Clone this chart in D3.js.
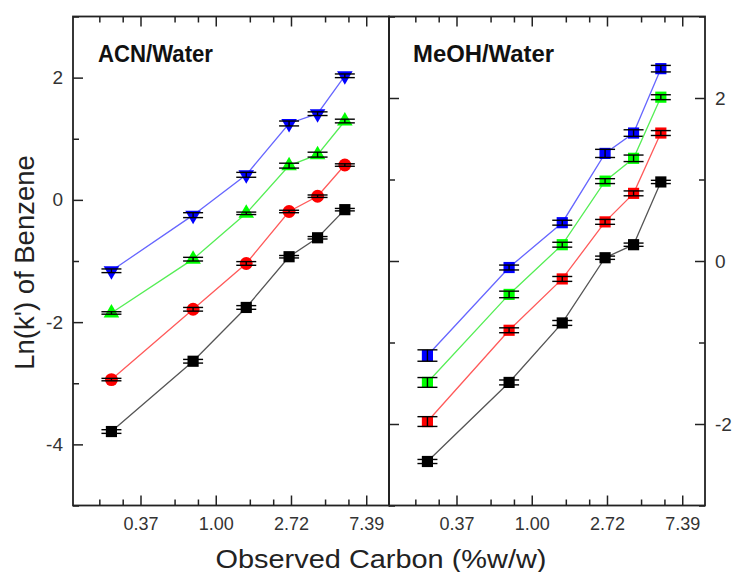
<!DOCTYPE html>
<html>
<head>
<meta charset="utf-8">
<script src="https://cdn.jsdelivr.net/npm/d3@7/dist/d3.min.js"></script>
<style>
  html, body { margin: 0; padding: 0; background: #fff; }
  svg { display: block; }
  text { font-family: "Liberation Sans", Arial, Helvetica, sans-serif; }
</style>
</head>
<body>
<svg id="chart" width="732" height="572"></svg>
<script>
// ---------------- DATA ----------------
const xValues = [0.25, 0.74, 1.5, 2.65, 3.87, 5.56];   // observed carbon (%w/w)
const xTickLabels = ["0.37", "1.00", "2.72", "7.39"];
const xTickExponents = [-1, 0, 1, 2];

const panelTitles = ["ACN/Water", "MeOH/Water"];
const seriesColors = ["#0000ff", "#00ff00", "#ff0000", "#000000"];
const lineColors   = ["#6666ff", "#55ee55", "#ff5a5a", "#555555"];

// ACN/Water panel
const acnBlue  = [-1.16, -0.25, 0.41, 1.25, 1.41, 2.03];
const acnGreen = [-1.85, -0.97, -0.22, 0.56, 0.74, 1.29];
const acnRed   = [-2.94, -1.79, -1.04, -0.19, 0.06, 0.57];
const acnBlack = [-3.79, -2.64, -1.76, -0.93, -0.62, -0.16];
const acnBlueErr  = [0.03, 0.04, 0.04, 0.04, 0.03, 0.03];
const acnGreenErr = [0.02, 0.03, 0.02, 0.04, 0.04, 0.03];
const acnRedErr   = [0.02, 0.03, 0.03, 0.02, 0.02, 0.02];
const acnBlackErr = [0.03, 0.03, 0.03, 0.02, 0.02, 0.02];

// MeOH/Water panel
const meohBlue  = [-1.16, -0.08, 0.47, 1.32, 1.57, 2.36];
const meohGreen = [-1.49, -0.41, 0.20, 0.98, 1.26, 2.01];
const meohRed   = [-1.97, -0.85, -0.22, 0.48, 0.83, 1.57];
const meohBlack = [-2.46, -1.49, -0.76, 0.04, 0.20, 0.97];
const meohBlueErr  = [0.07, 0.03, 0.03, 0.05, 0.04, 0.04];
const meohGreenErr = [0.06, 0.04, 0.03, 0.03, 0.04, 0.03];
const meohRedErr   = [0.06, 0.03, 0.03, 0.03, 0.03, 0.03];
const meohBlackErr = [0.025, 0.03, 0.03, 0.02, 0.02, 0.02];

const leftYTicks  = [-4, -2, 0, 2];
const leftYMinor  = [-5, -3, -1, 1, 3];
const rightYTicks = [-2, 0, 2];
const rightYMinor = [-3, -1, 1, 3];

// ---------------- LAYOUT ----------------
const svg = d3.select("#chart");
const plotTop = 16.5, plotBottom = 505.5;
const panels = [
  { x0: 73, x1: 389, ydom: [-5, 3], majors: leftYTicks, minors: leftYMinor, side: "left",
    title: panelTitles[0], titleX: 98, titleLen: 115,
    series: [acnBlue, acnGreen, acnRed, acnBlack],
    errs: [acnBlueErr, acnGreenErr, acnRedErr, acnBlackErr],
    symbols: ["tridown", "triangle", "circle", "square"] },
  { x0: 389, x1: 705, ydom: [-3, 3], majors: rightYTicks, minors: rightYMinor, side: "right",
    title: panelTitles[1], titleX: 413, titleLen: 141,
    series: [meohBlue, meohGreen, meohRed, meohBlack],
    errs: [meohBlueErr, meohGreenErr, meohRedErr, meohBlackErr],
    symbols: ["square", "square", "square", "square"] }
];

const xMajorVals = xTickExponents.map(k => Math.exp(k));
const xMinorVals = [];
for (let k = -2; k <= 2; k++) {
  const a = Math.exp(k), b = Math.exp(k + 1);
  for (let j = 1; j <= 2; j++) xMinorVals.push(a + j * (b - a) / 3);
}

const axisColor = "#222";
const labelColor = "#333";

function symbolPath(kind) {
  if (kind === "square") return d3.symbol(d3.symbolSquare, 125)();
  if (kind === "circle") return d3.symbol(d3.symbolCircle, 130)();
  return d3.symbol(d3.symbolTriangle, 105)();
}

function styleTicks(sel) {
  sel.call(s => s.select(".domain").remove());
  sel.selectAll("line").attr("stroke", axisColor).attr("stroke-width", 1.5);
}

panels.forEach((p, pi) => {
  const x = d3.scaleLog().base(Math.E).domain([0.15, 10]).range([p.x0, p.x1]);
  const y = d3.scaleLinear().domain(p.ydom).range([plotBottom, plotTop]);
  const xMinor = xMinorVals.filter(v => v > 0.15 && v < 10);
  const g = svg.append("g");

  const bAx = g.append("g").attr("transform", `translate(0,${plotBottom})`)
    .call(d3.axisBottom(x).tickValues(xMajorVals).tickFormat((d, i) => xTickLabels[i])
      .tickSizeInner(-10).tickSizeOuter(0).tickPadding(12));
  styleTicks(bAx);
  bAx.selectAll("text").attr("font-size", 18).attr("fill", labelColor)
    .attr("font-family", "Liberation Sans, Arial, sans-serif");
  styleTicks(g.append("g").attr("transform", `translate(0,${plotBottom})`)
    .call(d3.axisBottom(x).tickValues(xMinor).tickFormat("").tickSizeInner(-6).tickSizeOuter(0)));

  styleTicks(g.append("g").attr("transform", `translate(0,${plotTop})`)
    .call(d3.axisTop(x).tickValues(xMajorVals).tickFormat("").tickSizeInner(-10).tickSizeOuter(0)));
  styleTicks(g.append("g").attr("transform", `translate(0,${plotTop})`)
    .call(d3.axisTop(x).tickValues(xMinor).tickFormat("").tickSizeInner(-6).tickSizeOuter(0)));

  const labeledX = p.side === "left" ? p.x0 : p.x1;
  const mkAxis = p.side === "left" ? d3.axisLeft : d3.axisRight;
  const yAx = g.append("g").attr("transform", `translate(${labeledX},0)`)
    .call(mkAxis(y).tickValues(p.majors).tickSizeInner(-10).tickSizeOuter(0).tickPadding(10)
      .tickFormat(d => (d < 0 ? "-" : "") + Math.abs(d)));
  styleTicks(yAx);
  yAx.selectAll("text").attr("font-size", 19).attr("fill", labelColor)
    .attr("font-family", "Liberation Sans, Arial, sans-serif");
  styleTicks(g.append("g").attr("transform", `translate(${labeledX},0)`)
    .call(mkAxis(y).tickValues(p.minors).tickFormat("").tickSizeInner(-6).tickSizeOuter(0)));
  if (p.side === "right") {
    styleTicks(g.append("g").attr("transform", `translate(${p.x0},0)`)
      .call(d3.axisLeft(y).tickValues(p.majors).tickFormat("").tickSizeInner(-10).tickSizeOuter(0)));
    styleTicks(g.append("g").attr("transform", `translate(${p.x0},0)`)
      .call(d3.axisLeft(y).tickValues(p.minors).tickFormat("").tickSizeInner(-6).tickSizeOuter(0)));
  }

  g.append("rect").attr("x", p.x0).attr("y", plotTop).attr("width", p.x1 - p.x0).attr("height", plotBottom - plotTop)
    .attr("fill", "none").attr("stroke", axisColor).attr("stroke-width", 1.8);

  g.append("text").attr("x", p.titleX).attr("y", 62).attr("font-size", 23).attr("font-weight", "bold")
    .attr("fill", "#111").attr("textLength", p.titleLen).attr("lengthAdjust", "spacingAndGlyphs")
    .text(p.title);

  const line = d3.line().x(d => x(d[0])).y(d => y(d[1]));
  p.series.forEach((vals, si) => {
    const pts = xValues.map((xv, i) => [xv, vals[i], p.errs[si][i]]);
    g.append("path").datum(pts).attr("d", line).attr("fill", "none")
      .attr("stroke", lineColors[si]).attr("stroke-width", 1.3);
    const kind = p.symbols[si];
    g.selectAll(null).data(pts).enter().append("path")
      .attr("d", symbolPath(kind))
      .attr("transform", d => `translate(${x(d[0])},${y(d[1])})` + (kind === "tridown" ? " rotate(180)" : ""))
      .attr("fill", seriesColors[si]);
    const eb = g.selectAll(null).data(pts).enter().append("g").attr("stroke", "#000").attr("stroke-width", 1.4);
    eb.append("line").attr("x1", d => x(d[0])).attr("x2", d => x(d[0]))
      .attr("y1", d => y(d[1] - d[2])).attr("y2", d => y(d[1] + d[2]));
    eb.append("line").attr("x1", d => x(d[0]) - 10).attr("x2", d => x(d[0]) + 10)
      .attr("y1", d => y(d[1] - d[2])).attr("y2", d => y(d[1] - d[2]));
    eb.append("line").attr("x1", d => x(d[0]) - 10).attr("x2", d => x(d[0]) + 10)
      .attr("y1", d => y(d[1] + d[2])).attr("y2", d => y(d[1] + d[2]));
  });
});

svg.append("text").attr("transform", "translate(33.5,262.5) rotate(-90)").attr("text-anchor", "middle")
  .attr("font-size", 27.5).attr("fill", "#222").text("Ln(k') of Benzene");
svg.append("text").attr("x", 381).attr("y", 568).attr("text-anchor", "middle")
  .attr("font-size", 25).attr("fill", "#222").attr("textLength", 331).attr("lengthAdjust", "spacingAndGlyphs")
  .text("Observed Carbon (%w/w)");
</script>
</body>
</html>
